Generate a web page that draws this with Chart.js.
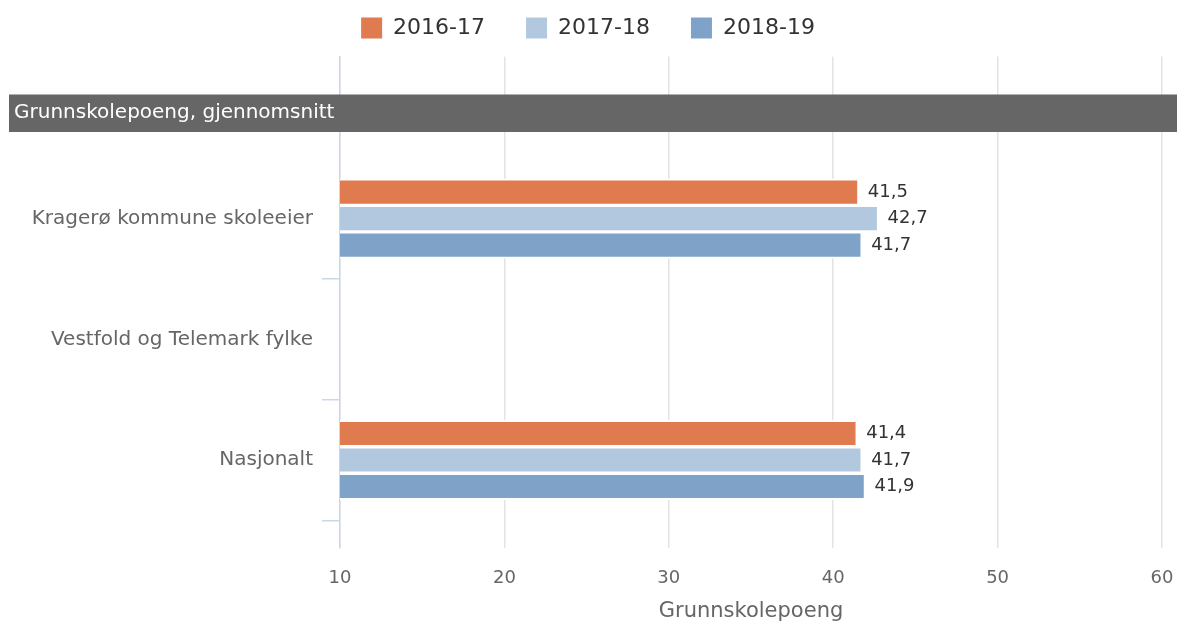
<!DOCTYPE html>
<html>
<head>
<meta charset="utf-8">
<script src="https://cdn.jsdelivr.net/npm/chart.js@4"></script>
<style>
  html, body { margin: 0; padding: 0; background: #fff; }
  #wrap { width: 1177px; height: 626px; }
</style>
</head>
<body>
<div id="wrap"><canvas id="myChart" width="1177" height="626"></canvas></div>
<script>
// data
const categories = ['Kragerø kommune skoleeier', 'Vestfold og Telemark fylke', 'Nasjonalt'];
const seriesNames = ['2016-17', '2017-18', '2018-19'];
const values2016 = [41.5, null, 41.4];
const values2017 = [42.7, null, 41.7];
const values2018 = [41.7, null, 41.9];
const xTicks = [10, 20, 30, 40, 50, 60];
const headerLabel = 'Grunnskolepoeng, gjennomsnitt';
const axisTitle = 'Grunnskolepoeng';

const colors = ['#df7b4f', '#b2c8de', '#7fa3c8'];

Chart.defaults.font.family = "'DejaVu Sans', sans-serif";
Chart.defaults.color = '#666';

const toPoints = (vals) => vals
  .map((v, i) => ({ x: v, y: i }))
  .filter(p => p.x !== null);

const fmt = (v) => v.toFixed(1).replace('.', ',');

// grey header row over the plot
const headerBand = {
  id: 'headerBand',
  beforeDatasetsDraw(chart) {
    const { ctx, chartArea } = chart;
    const top = chartArea.top + 38;
    const h = 37.5;
    ctx.save();
    ctx.fillStyle = '#666666';
    ctx.fillRect(9, top, chart.width - 9, h);
    ctx.fillStyle = '#ffffff';
    ctx.font = "20px 'DejaVu Sans'";
    ctx.textBaseline = 'middle';
    ctx.textAlign = 'left';
    ctx.fillText(headerLabel, 14, top + h / 2);
    ctx.restore();
  }
};

// value labels right of each bar
const valueLabels = {
  id: 'valueLabels',
  afterDatasetsDraw(chart) {
    const { ctx } = chart;
    ctx.save();
    ctx.font = "18px 'DejaVu Sans'";
    ctx.fillStyle = '#333';
    ctx.textBaseline = 'middle';
    ctx.textAlign = 'left';
    chart.data.datasets.forEach((ds, i) => {
      const meta = chart.getDatasetMeta(i);
      meta.data.forEach((el, j) => {
        ctx.fillText(fmt(ds.data[j].x), el.x + 10, el.y);
      });
    });
    ctx.restore();
  }
};

const ctx = document.getElementById('myChart').getContext('2d');
new Chart(ctx, {
  type: 'bar',
  data: {
    datasets: [values2016, values2017, values2018].map((vals, i) => ({
      label: seriesNames[i],
      data: toPoints(vals),
      backgroundColor: colors[i],
      borderColor: '#ffffff',
      borderWidth: { top: 2, bottom: 2, left: 0, right: 1 },
      borderSkipped: false,
      barThickness: 26.5,
    }))
  },
  options: {
    indexAxis: 'y',
    responsive: false,
    animation: false,
    layout: { padding: { top: -24, left: 14, right: 15, bottom: 0 } },
    plugins: {
      tooltip: { enabled: false },
      legend: {
        position: 'top',
        labels: {
          boxWidth: 21,
          boxHeight: 21,
          padding: 41,
          color: '#333',
          font: { size: 22 },
          generateLabels: (chart) => Chart.defaults.plugins.legend.labels.generateLabels(chart)
            .map(l => ({ ...l, lineWidth: 0 })),
        }
      },
      // small spacer under the legend
      title: {
        display: true,
        text: '',
        weight: 500,
        font: { size: 1, lineHeight: 1 },
        padding: { top: 6.5, bottom: 0 },
      },
    },
    scales: {
      x: {
        type: 'linear',
        position: 'bottom',
        min: 10,
        max: 60,
        afterBuildTicks: (s) => { s.ticks = xTicks.map(v => ({ value: v })); },
        afterFit: (s) => { s.height = 78; },
        grid: {
          color: '#e3e3e3',
          lineWidth: 1.5,
          drawTicks: true,
          tickLength: 17,
          tickColor: 'rgba(0,0,0,0)',
        },
        border: { display: false },
        ticks: { padding: 3, color: '#666', font: { size: 18 } },
        title: {
          display: true,
          text: axisTitle,
          color: '#666',
          font: { size: 21 },
          padding: { top: 0, bottom: 1.4 },
        },
      },
      y: {
        type: 'linear',
        reverse: true,
        offset: false,
        min: -1.3435,
        max: 2.729,
        afterBuildTicks: (s) => {
          s.ticks = categories.flatMap((c, i) => [{ value: i }, { value: i + 0.5 }]);
        },
        afterFit: (s) => { s.width = 326; },
        grid: {
          offset: false,
          drawOnChartArea: false,
          drawTicks: true,
          tickLength: 18,
          lineWidth: 1.5,
          color: (c) => (c.tick && c.tick.value % 1) ? '#ccd6eb' : 'rgba(0,0,0,0)',
        },
        border: { display: true, color: '#ccd6eb', width: 1.5 },
        ticks: {
          autoSkip: false,
          padding: 9,
          color: '#666',
          font: { size: 20 },
          callback: (v) => Number.isInteger(v) ? categories[v] : '',
        },
      }
    }
  },
  plugins: [headerBand, valueLabels]
});
</script>
</body>
</html>
